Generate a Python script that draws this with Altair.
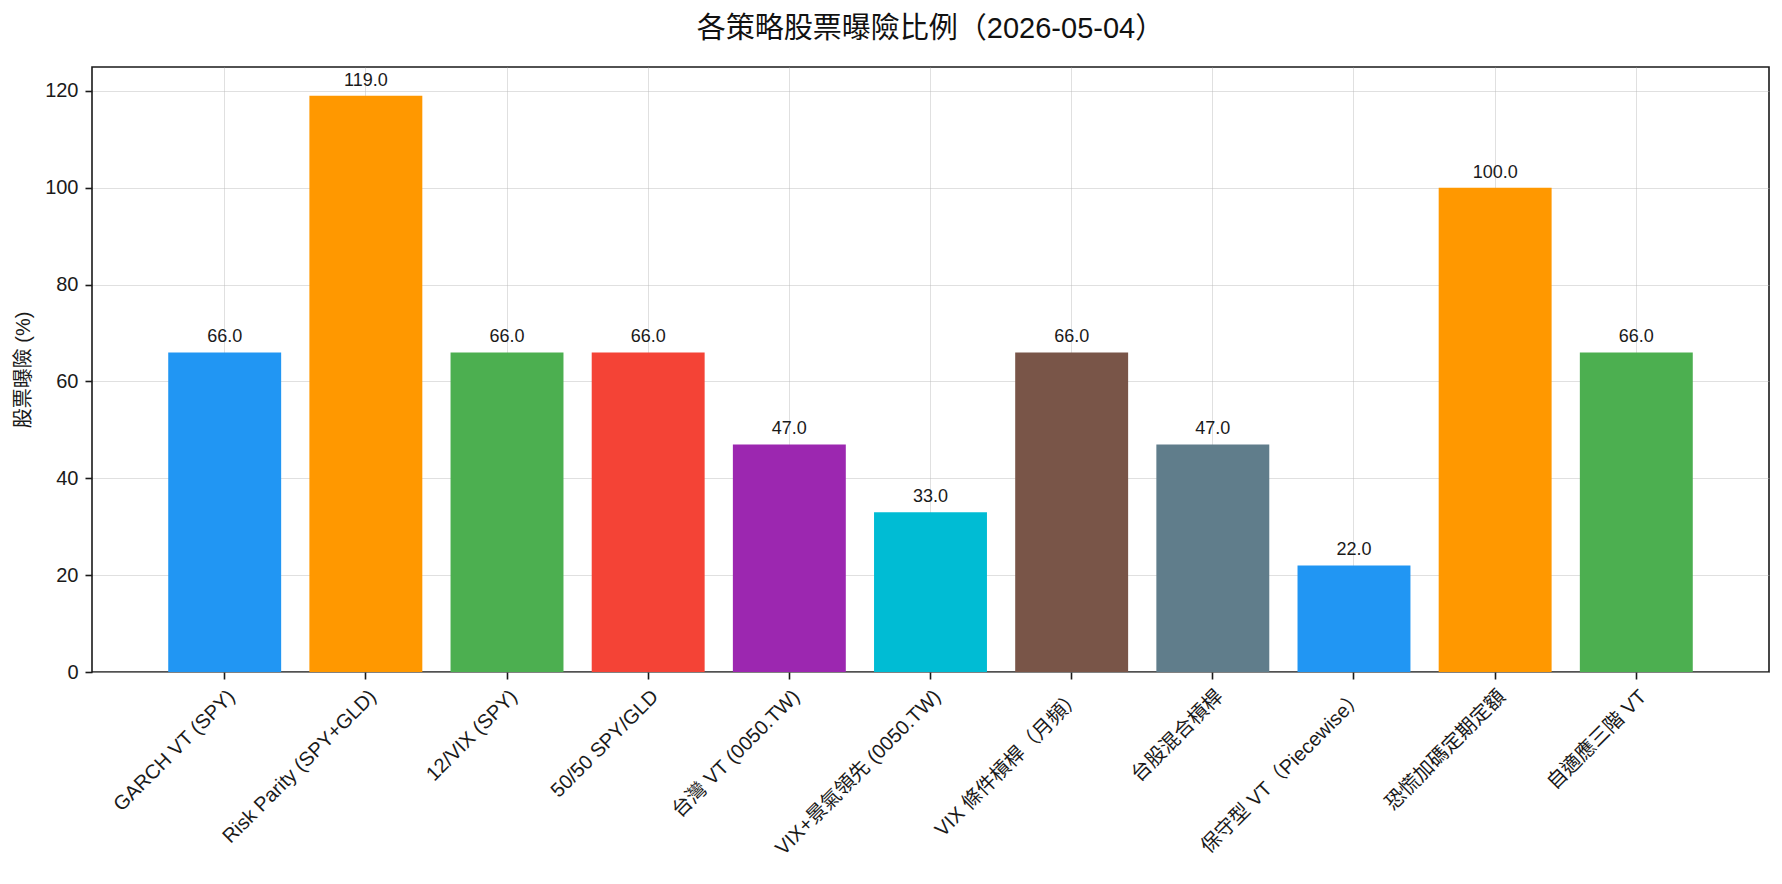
import altair as alt
import pandas as pd

# Data
strategies = [
    "GARCH VT (SPY)",
    "Risk Parity (SPY+GLD)",
    "12/VIX (SPY)",
    "50/50 SPY/GLD",
    "台灣 VT (0050.TW)",
    "VIX+景氣領先 (0050.TW)",
    "VIX 條件槓桿（月頻）",
    "台股混合槓桿",
    "保守型 VT（Piecewise）",
    "恐慌加碼定期定額",
    "自適應三階 VT",
]
exposure = [66.0, 119.0, 66.0, 66.0, 47.0, 33.0, 66.0, 47.0, 22.0, 100.0, 66.0]
bar_colors = [
    "#2196F3", "#FF9800", "#4CAF50", "#F44336", "#9C27B0", "#00BCD4",
    "#795548", "#607D8B", "#2196F3", "#FF9800", "#4CAF50",
]
y_ticks = [0, 20, 40, 60, 80, 100, 120]

FONT = "Liberation Sans, Noto Sans CJK TC, sans-serif"
INK = "#1a1a1a"

df = pd.DataFrame({"strategy": strategies, "exposure": exposure, "color": bar_colors})
df["label"] = df["exposure"].map(lambda v: f"{v:.1f}")

x = alt.X(
    "strategy:N",
    sort=strategies,
    title=None,
    scale=alt.Scale(paddingInner=0.2, paddingOuter=0.54),
    axis=alt.Axis(
        labelAngle=-45, labelAlign="right", labelBaseline="top",
        labelFontSize=20, labelColor=INK, labelPadding=7,
        tickSize=7, tickColor=INK, tickWidth=1.6, domain=False,
        grid=True, gridColor="#bbbbbb", gridOpacity=0.45, bandPosition=0.5,
        labelLimit=500,
    ),
)
y = alt.Y(
    "exposure:Q",
    title="股票曝險 (%)",
    scale=alt.Scale(domain=[0, 124.95], nice=False, zero=True),
    axis=alt.Axis(
        values=y_ticks, labelFontSize=20, labelPadding=7,
        labelColor=INK, tickSize=7, tickColor=INK, tickWidth=1.6,
        titleFontSize=20, titleFontWeight="normal", titleColor=INK,
        titlePadding=11, domain=False, grid=True, gridColor="#bbbbbb",
        gridOpacity=0.45,
    ),
)

base = alt.Chart(df).encode(x=x)

bars = base.mark_bar().encode(
    y=y,
    color=alt.Color("color:N", scale=None),
)

labels = base.mark_text(
    baseline="alphabetic", dy=-10, fontSize=18, color=INK, font=FONT
).encode(
    y=alt.Y("exposure:Q"),
    text="label:N",
)

chart = (
    alt.layer(bars, labels)
    .properties(
        width=1677,
        height=605,
        padding={"left": 5, "top": 7, "right": 5, "bottom": 5},
        title=alt.TitleParams(
            "各策略股票曝險比例（2026-05-04）",
            fontSize=29, fontWeight="normal", color="#111111",
            anchor="middle", offset=23, font=FONT,
        ),
    )
    .configure(font=FONT)
    .configure_view(stroke=INK, strokeWidth=1.6)
    .configure_axis(labelFont=FONT, titleFont=FONT, zindex=1)
)

chart.save("out.html", embed_options={"renderer": "svg", "actions": False})
